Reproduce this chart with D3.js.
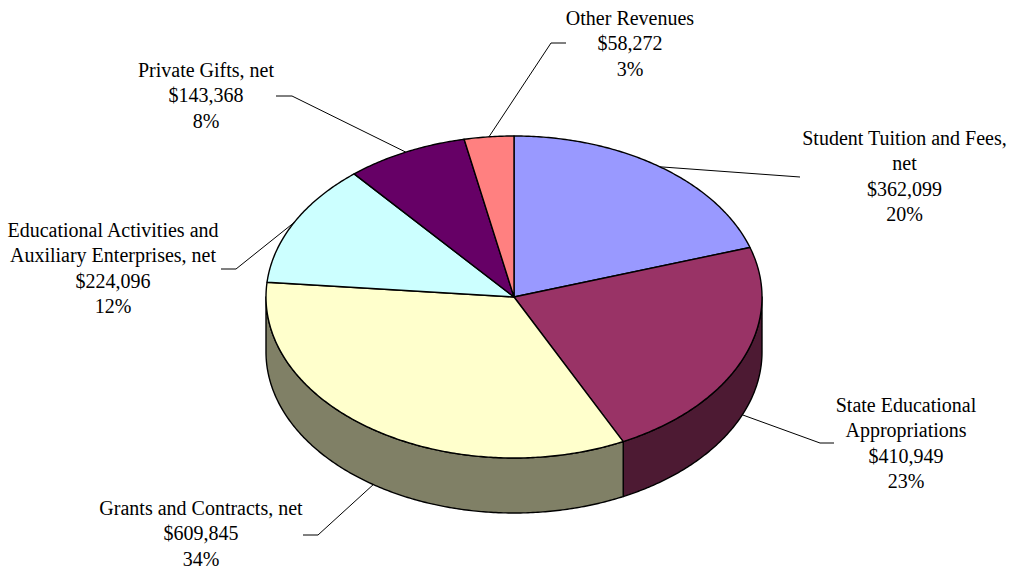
<!DOCTYPE html>
<html><head><meta charset="utf-8">
<script src="https://cdn.jsdelivr.net/npm/d3@7"></script>
<style>html,body{margin:0;padding:0;background:#fff;}svg{display:block;}</style>
</head><body>
<svg id="chart" width="1009" height="569"></svg>
<script>
// ---- data ----
const categories = ["Student Tuition and Fees, net","State Educational Appropriations","Grants and Contracts, net","Educational Activities and Auxiliary Enterprises, net","Private Gifts, net","Other Revenues"];
const labelLines = [["Student Tuition and Fees,","net"],["State Educational","Appropriations"],["Grants and Contracts, net"],["Educational Activities and","Auxiliary Enterprises, net"],["Private Gifts, net"],["Other Revenues"]];
const values = [362099, 410949, 609845, 224096, 143368, 58272];
const colors = ["#9999FF","#993366","#FFFFCC","#CCFFFF","#660066","#FF8080"];

// ---- layout ----
const cx = 514, cy = 297, rx = 248, ry = 161, depth = 55;
const fontSize = 20, lineH = 25.4;
// label text centre / first baseline, leader elbow and end
const labelLayout = [
  {tx:904.5, ty:145, pts:[[800,177]]},
  {tx:906, ty:412, pts:[[820,443],[834,443]]},
  {tx:201, ty:515, pts:[[318,535],[303,535]]},
  {tx:113, ty:237, pts:[[236,269],[221,269]]},
  {tx:206, ty:77, pts:[[292,96],[276,96]]},
  {tx:630, ty:25, pts:[[551,43],[566,43]]}
];

const svg = d3.select("#chart");
const total = d3.sum(values);
const pie = d3.pie().sort(null).value(d => d).startAngle(0).endAngle(2*Math.PI);
const arcs = pie(values);

const px = a => cx + rx*Math.sin(a);
const py = a => cy - ry*Math.cos(a);
const angleSteps = (a0, a1) => {
  const n = Math.max(2, Math.ceil(Math.abs(a1-a0)/0.01));
  return d3.range(n+1).map(i => a0 + (a1-a0)*i/n);
};
const line = d3.line();

const half = c => { const k = d3.rgb(c); return d3.rgb(k.r*0.5, k.g*0.5, k.b*0.5).toString(); };

// ---- side walls (front half: PI/2 .. 3PI/2) ----
const gSide = svg.append("g");
arcs.forEach((a, i) => {
  const s = Math.max(a.startAngle, Math.PI/2), e = Math.min(a.endAngle, 3*Math.PI/2);
  if (e <= s) return;
  const top = angleSteps(s, e).map(t => [px(t), py(t)]);
  const bot = angleSteps(e, s).map(t => [px(t), py(t)+depth]);
  gSide.append("path")
    .attr("d", line(top.concat(bot)) + "Z")
    .attr("fill", half(colors[i]))
    .attr("stroke", "#000").attr("stroke-width", 1.4).attr("stroke-linejoin","round");
});

// ---- top faces ----
const gTop = svg.append("g");
arcs.forEach((a, i) => {
  const pts = [[cx, cy]].concat(angleSteps(a.startAngle, a.endAngle).map(t => [px(t), py(t)]));
  gTop.append("path")
    .attr("d", line(pts) + "Z")
    .attr("fill", colors[i])
    .attr("stroke", "#000").attr("stroke-width", 1.4).attr("stroke-linejoin","round");
});

// ---- leader lines and labels ----
const fmtMoney = v => "$" + d3.format(",")(v);
const fmtPct = d3.format(".0%");
const gLab = svg.append("g");
arcs.forEach((a, i) => {
  const mid = (a.startAngle + a.endAngle)/2;
  const front = Math.cos(mid) < 0;
  const anchor = [px(mid), py(mid) + (front ? depth : 0)];
  const L = labelLayout[i];
  gLab.append("path")
    .attr("d", line([anchor].concat(L.pts)))
    .attr("fill", "none").attr("stroke", "#000").attr("stroke-width", 1);
  const lines = labelLines[i].concat([fmtMoney(values[i]), fmtPct(values[i]/total)]);
  const t = gLab.append("text")
    .attr("text-anchor", "middle")
    .attr("font-family", "'Liberation Serif','Times New Roman',serif")
    .attr("font-size", fontSize).attr("fill", "#000");
  lines.forEach((s, j) => t.append("tspan").attr("x", L.tx).attr("y", L.ty + j*lineH).text(s));
});
</script>
</body></html>
